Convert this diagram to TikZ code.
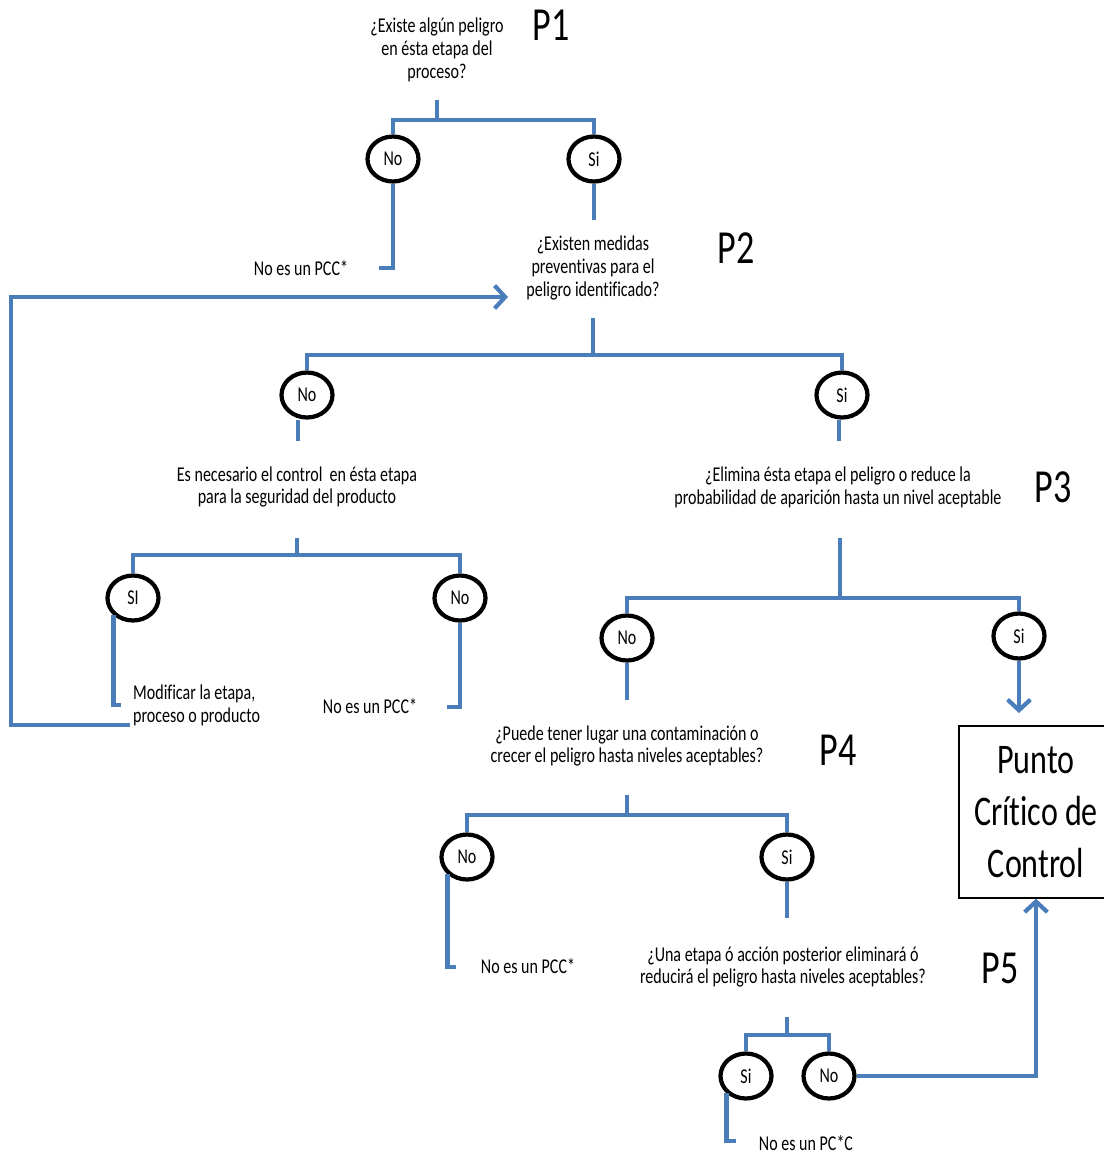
\documentclass[tikz,border=0pt]{standalone}
\usepackage{fontspec}
\setmainfont{Carlito}[FakeStretch=0.76,Ligatures=NoCommon]
\usetikzlibrary{arrows.meta,shapes.geometric}
\definecolor{lineblue}{HTML}{4A7EBB}

\begin{document}
\begin{tikzpicture}[x=0.02cm,y=-0.02cm,
    flow/.style={draw=lineblue,line width=2.4pt},
    arrowflow/.style={flow,-{Straight Barb[length=6pt,width=13pt]}},
    answer/.style={ellipse,draw=black,line width=2.4pt,minimum width=1.02cm,minimum height=0.9cm,inner sep=0pt,font=\fontsize{12}{13}\selectfont},
    question/.style={align=center,font=\fontsize{12}{13}\selectfont},
    result/.style={align=left,font=\fontsize{12}{13}\selectfont},
    plabel/.style={font=\fontsize{27}{30}\selectfont},
    pccbox/.style={draw=black,line width=0.8pt,minimum width=3.08cm,minimum height=3.44cm,align=center,font=\fontsize{24}{29.5}\selectfont}]
    \useasboundingbox (0,0) rectangle (1104,1154);

    % Question P1
    \node[question] (q1) at (437,50) {¿Existe algún peligro\\en ésta etapa del\\proceso?};
    \node[plabel] (p1) at (551,25) {P1};
    \node[answer] (q1no) at (393,159) {No};
    \node[answer] (q1si) at (594,159) {Si};
    \coordinate (q1top) at (437,100);
    \coordinate (q1bar) at (437,120);
    \draw[flow] (q1top) -- (q1bar) -| (q1no);
    \draw[flow] (q1bar) -| (q1si);
    \node[result] (pcc1) at (301,268) {No es un PCC*};
    \coordinate (pcc1end) at (379,268);
    \draw[flow] (q1no) |- (pcc1end);
    \coordinate (q1down) at (594,220);
    \draw[flow] (q1si) -- (q1down);

    % Question P2
    \node[question] (q2) at (593,268) {¿Existen medidas\\preventivas para el\\peligro identificado?};
    \node[plabel] (p2) at (736,248) {P2};
    \node[answer] (q2no) at (307,395) {No};
    \node[answer] (q2si) at (842,395) {Si};
    \coordinate (q2top) at (593,318);
    \coordinate (q2bar) at (593,355);
    \draw[flow] (q2top) -- (q2bar) -| (q2no);
    \draw[flow] (q2bar) -| (q2si);
    \coordinate (q2nodown) at (298,441);
    \draw[flow] (298,420) -- (q2nodown);
    \coordinate (q2sidown) at (839,441);
    \draw[flow] (839,420) -- (q2sidown);

    % Control needed?
    \node[question] (nec) at (297,487) {Es necesario el control \ en ésta etapa\\para la seguridad del producto};
    \node[answer] (necsi) at (133,598) {SI};
    \node[answer] (necno) at (460,598) {No};
    \coordinate (nectop) at (297,538);
    \coordinate (necbar) at (297,555);
    \draw[flow] (nectop) -- (necbar) -| (necsi);
    \draw[flow] (necbar) -| (necno);
    \node[result,anchor=west] (modif) at (127,705) {Modificar la etapa,\\proceso o producto};
    \coordinate (modifend) at (121,705);
    \draw[flow] (necsi.south west) |- (modifend);
    \node[result] (pcc2) at (370,706) {No es un PCC*};
    \coordinate (pcc2end) at (447,707);
    \draw[flow] (necno) |- (pcc2end);

    % back to P2
    \coordinate (loopstart) at (130,725);
    \coordinate (q2in) at (508,297);
    \draw[arrowflow] (loopstart) -| (11,297) -- (q2in);

    % Question P3
    \node[question] (q3) at (838,487) {¿Elimina ésta etapa el peligro o reduce la\\probabilidad de aparición hasta un nivel aceptable};
    \node[plabel] (p3) at (1053,487) {P3};
    \node[answer] (q3no) at (627,638) {No};
    \node[answer] (q3si) at (1019,636) {Si};
    \coordinate (q3top) at (840,538);
    \coordinate (q3bar) at (840,598);
    \draw[flow] (q3top) -- (q3bar) -| (q3no);
    \draw[flow] (q3bar) -| (q3si);
    \node[pccbox] (pcc) at (1036,812) {Punto\\Crítico de\\Control};
    \coordinate (pcctop) at (1019,713);
    \draw[arrowflow] (q3si) -- (pcctop);
    \coordinate (q3nodown) at (627,700);
    \draw[flow] (q3no) -- (q3nodown);

    % Question P4
    \node[question] (q4) at (627,746) {¿Puede tener lugar una contaminación o\\crecer el peligro hasta niveles aceptables?};
    \node[plabel] (p4) at (838,750) {P4};
    \node[answer] (q4no) at (467,857) {No};
    \node[answer] (q4si) at (787,857) {Si};
    \coordinate (q4top) at (627,795);
    \coordinate (q4bar) at (627,815);
    \draw[flow] (q4top) -- (q4bar) -| (q4no);
    \draw[flow] (q4bar) -| (q4si);
    \node[result] (pcc3) at (528,966) {No es un PCC*};
    \coordinate (pcc3end) at (456,967);
    \draw[flow] (q4no.south west) |- (pcc3end);
    \coordinate (q4sidown) at (787,918);
    \draw[flow] (q4si) -- (q4sidown);

    % Question P5
    \node[question] (q5) at (783,967) {¿Una etapa ó acción posterior eliminará ó\\reducirá el peligro hasta niveles aceptables?};
    \node[plabel] (p5) at (1000,968) {P5};
    \node[answer] (q5si) at (746,1076) {Si};
    \node[answer] (q5no) at (829,1076) {No};
    \coordinate (q5top) at (787,1017);
    \coordinate (q5bar) at (787,1035);
    \draw[flow] (q5top) -- (q5bar) -| (q5si);
    \draw[flow] (q5bar) -| (q5no);
    \draw[arrowflow] (q5no) -| (pcc);
    \node[result] (pcc4) at (806,1143) {No es un PC*C};
    \coordinate (pcc4end) at (736,1141);
    \draw[flow] (q5si.south west) |- (pcc4end);

\end{tikzpicture}
\end{document}
